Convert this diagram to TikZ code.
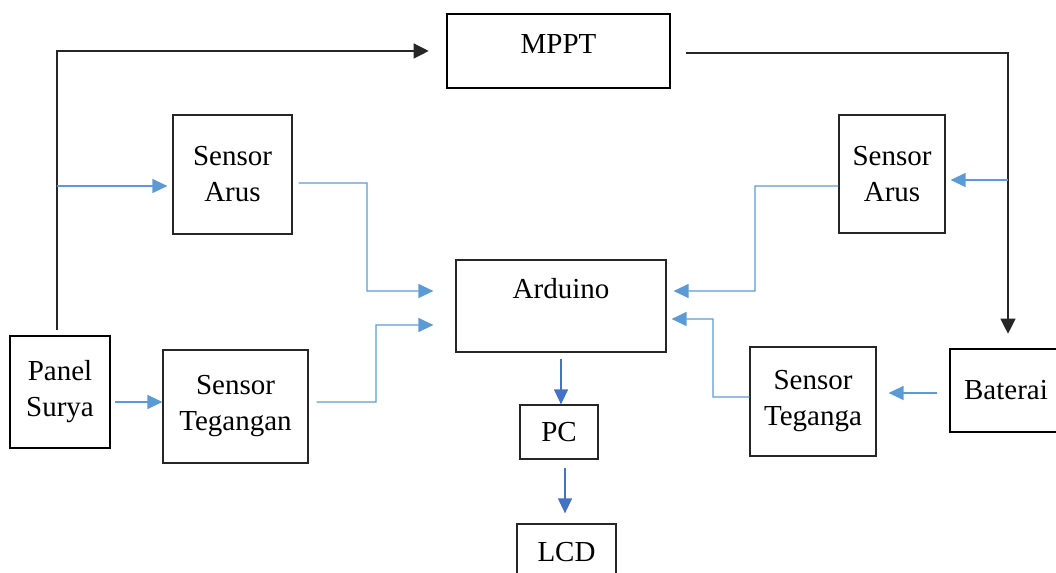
\documentclass[tikz,border=0pt]{standalone}
\usepackage{fontspec}
\setmainfont{Liberation Serif}
\usetikzlibrary{arrows.meta}

\definecolor{biruMuda}{RGB}{91,155,213}
\definecolor{biruTua}{RGB}{68,114,196}

\tikzset{
    blok/.style={draw=black!85, line width=0.7pt, inner sep=0pt, align=center,
        font=\fontsize{16.5}{20.5}\selectfont},
    blokTebal/.style={blok, line width=1.5pt, draw=black},
    panahHitam/.style={draw=black!85, line width=0.7pt, -{Triangle[length=0.3cm,width=0.3cm]}},
    panahBiru/.style={draw=biruMuda, line width=0.7pt, -{Triangle[length=0.3cm,width=0.28cm]}},
    panahBiruTua/.style={draw=biruTua, line width=0.7pt, -{Triangle[length=0.3cm,width=0.28cm]}}
}

\begin{document}
\begin{tikzpicture}[x=0.02cm, y=-0.02cm]
    \clip (0,0) rectangle (1056,573);

    % Blok utama
    \node[blokTebal, minimum width=4.46cm, minimum height=1.48cm] (mppt) at (558.5,51) {MPPT\\[-12pt]~};
    \node[blokTebal, minimum width=2cm, minimum height=2.24cm] (panel) at (60,392) {Panel\\Surya};
    \node[blokTebal, minimum width=2.24cm, minimum height=1.66cm] (baterai) at (1006,390.5) {Baterai};
    \node[blok, minimum width=4.2cm, minimum height=1.84cm] (arduino) at (561,306) {Arduino\\~};

    % Sensor
    \node[blok, minimum width=2.38cm, minimum height=2.38cm] (arusKiri) at (232.5,174.5) {Sensor\\Arus};
    \node[blok, minimum width=2.9cm, minimum height=2.26cm] (teganganKiri) at (235.5,406.5) {Sensor\\Tegangan};
    \node[blok, minimum width=2.12cm, minimum height=2.36cm] (arusKanan) at (892,174) {Sensor\\Arus};
    \node[blok, minimum width=2.52cm, minimum height=2.18cm] (teganganKanan) at (813,401.5) {Sensor\\Teganga};

    % Keluaran
    \node[blok, minimum width=1.56cm, minimum height=1.08cm] (pc) at (559,432) {PC};
    \node[blok, minimum width=1.98cm, minimum height=1.12cm] (lcd) at (566.5,552) {LCD};

    % Jalur daya
    \coordinate (panelAtas) at (57,330);
    \coordinate (mpptKanan) at (686,53);
    \draw[panahHitam, shorten >=0.34cm] (panelAtas) |- (mppt.west);
    \draw[panahHitam, shorten >=0.28cm] (mpptKanan) -| ([xshift=0.04cm]baterai.north);

    % Sisi panel surya
    \coordinate (cabangKiri) at (57,186);
    \draw[panahBiru, shorten >=0.1cm] (cabangKiri) -- (cabangKiri -| arusKiri.west);
    \draw[panahBiru] ([xshift=0.08cm,yshift=-0.2cm]panel.east) coordinate (ps1) -- (ps1 -| teganganKiri.west);
    \draw[panahBiru, shorten >=0.44cm] ([xshift=0.12cm,yshift=-0.17cm]arusKiri.east) -| (367,291) -- ([yshift=0.3cm]arduino.west);
    \draw[panahBiru, shorten >=0.44cm] ([xshift=0.16cm,yshift=0.09cm]teganganKiri.east) -| (376,325) -- ([yshift=-0.38cm]arduino.west);

    % Sisi baterai
    \coordinate (cabangKanan) at (1008,180);
    \draw[panahBiru, shorten >=0.1cm] (cabangKanan) -- (cabangKanan -| arusKanan.east);
    \draw[panahBiru, shorten >=0.24cm] ([xshift=-0.24cm,yshift=-0.05cm]baterai.west) coordinate (bt1) -- (bt1 -| teganganKanan.east);
    \draw[panahBiru, shorten >=0.14cm] ([yshift=-0.24cm]arusKanan.west) -| (755,291) -- ([yshift=0.3cm]arduino.east);
    \draw[panahBiru, shorten >=0.1cm] ([yshift=0.09cm]teganganKanan.west) -| (713,319) -- ([yshift=-0.26cm]arduino.east);

    % Ke PC dan LCD
    \draw[panahBiruTua] ([yshift=-0.12cm]arduino.south) coordinate (ar1) -- (ar1 |- pc.north);
    \draw[panahBiruTua, shorten >=0.2cm] ([xshift=0.12cm,yshift=-0.16cm]pc.south) coordinate (pc1) -- (pc1 |- lcd.north);
\end{tikzpicture}
\end{document}
